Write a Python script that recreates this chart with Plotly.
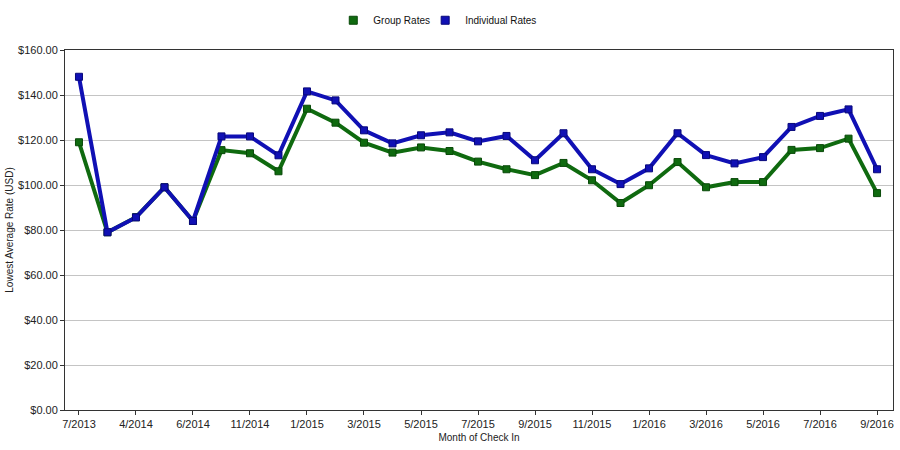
import plotly.graph_objects as go

months = ["7/2013", "3/2014", "4/2014", "5/2014", "6/2014", "10/2014", "11/2014", "12/2014",
          "1/2015", "2/2015", "3/2015", "4/2015", "5/2015", "6/2015", "7/2015", "8/2015",
          "9/2015", "10/2015", "11/2015", "12/2015", "1/2016", "2/2016", "3/2016", "4/2016",
          "5/2016", "6/2016", "7/2016", "8/2016", "9/2016"]
group_rates = [119.0, 79.0, 85.7, 99.0, 84.0, 115.5, 114.1, 106.1, 133.9, 127.7, 118.8, 114.4,
               116.7, 115.1, 110.4, 107.0, 104.4, 109.8, 102.1, 92.0, 99.9, 110.2, 99.0, 101.3,
               101.3, 115.6, 116.4, 120.6, 96.4]
individual_rates = [148.1, 79.0, 85.6, 99.0, 84.0, 121.6, 121.6, 113.2, 141.6, 137.6, 124.3, 118.5,
                    122.1, 123.4, 119.4, 121.8, 111.0, 123.0, 107.0, 100.4, 107.4, 123.0, 113.3, 109.6,
                    112.4, 125.8, 130.7, 133.6, 107.0]
tick_labels = months[::2]

GREEN = "#0f6a0f"
GREEN_DARK = "#0a4a0a"
BLUE = "#1010b4"
BLUE_DARK = "#08087a"
FONT = "Liberation Sans"

fig = go.Figure()
for name, vals, col, dark in [("Group Rates", group_rates, GREEN, GREEN_DARK),
                              ("Individual Rates", individual_rates, BLUE, BLUE_DARK)]:
    fig.add_trace(go.Scatter(
        x=months, y=vals, mode="lines+markers", name=name, showlegend=False,
        line=dict(color=col, width=4),
        marker=dict(symbol="square", size=7, color=col, line=dict(color=dark, width=1)),
    ))
for name, col, dark, lg in [("Group Rates", GREEN, GREEN_DARK, "legend"),
                            ("Individual Rates", BLUE, BLUE_DARK, "legend2")]:
    fig.add_trace(go.Scatter(
        x=[None], y=[None], mode="markers", name=name, legend=lg,
        marker=dict(symbol="square", size=8, color=col, line=dict(color=dark, width=1)),
    ))

legend_common = dict(orientation="h", xanchor="left", yref="container", y=0.955,
                     yanchor="middle", font=dict(size=10, color="#111111"),
                     bgcolor="rgba(0,0,0,0)")

fig.update_layout(
    width=900, height=450,
    margin=dict(l=65, r=7, t=50, b=40),
    paper_bgcolor="white", plot_bgcolor="white",
    font=dict(family=FONT, size=11, color="#222222"),
    legend=dict(x=0.324, **legend_common),
    legend2=dict(x=0.435, **legend_common),
    xaxis=dict(
        type="category", categoryorder="array", categoryarray=months,
        range=[-0.49, 28.56],
        tickmode="array", tickvals=tick_labels, ticktext=tick_labels,
        ticks="outside", ticklen=4, tickcolor="#333333",
        showline=True, linecolor="#333333", linewidth=1, mirror=True,
        showgrid=False, zeroline=False,
        title=dict(text="Month of Check In", font=dict(size=10), standoff=4),
        tickfont=dict(size=11),
    ),
    yaxis=dict(
        range=[0, 160], dtick=20, tickprefix="$", tickformat=".2f",
        ticks="outside", ticklen=4, tickcolor="#333333",
        showline=True, linecolor="#333333", linewidth=1, mirror=True,
        showgrid=True, gridcolor="#c4c4c4", gridwidth=1, zeroline=False,
        title=dict(text="Lowest Average Rate (USD)", font=dict(size=10), standoff=2),
        tickfont=dict(size=11),
    ),
)

fig.write_html("out.html", config={"displayModeBar": False},
               post_script="document.body.style.margin='0';")
